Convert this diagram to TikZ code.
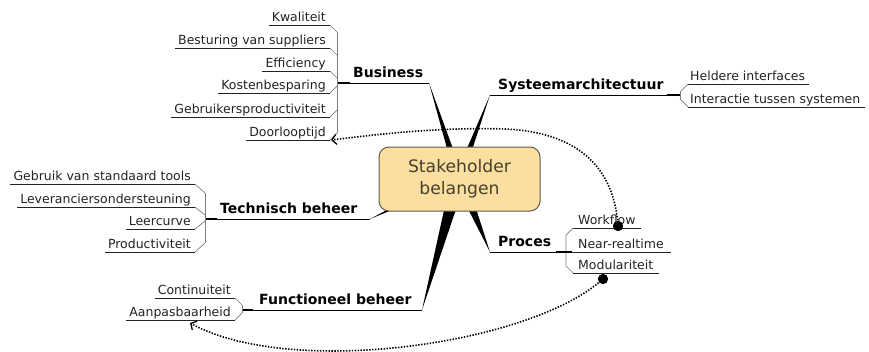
\documentclass[tikz,border=0pt]{standalone}
\usepackage{fontspec}
\setmainfont{DejaVu Sans}
\usetikzlibrary{calc,arrows.meta}
\definecolor{boxfill}{RGB}{250,223,160}
\definecolor{boxline}{RGB}{95,90,70}
\definecolor{ctext}{RGB}{70,66,45}
\definecolor{ktext}{RGB}{35,35,35}
\definecolor{chamcol}{RGB}{125,125,125}
% left-side child: name, text right x, underline y, text, chamfer vector
\newcommand\mmLeft[5]{%
  \node[kid,anchor=base east] (#1) at (#2,#3-3.5) {#4};
  \draw[uline] ($(#1.base west)+(-3,3.5)$) -- ($(#1.base east)+(4,3.5)$);
  \draw[chamf] ($(#1.base east)+(4,3.5)$) -- ++(#5);
}
% right-side child: name, text left x, underline y, text, chamfer vector
\newcommand\mmRight[5]{%
  \node[kid,anchor=base west] (#1) at (#2,#3-4) {#4};
  \draw[uline] ($(#1.base west)+(-2,4)$) -- ($(#1.base east)+(4,4)$);
  \draw[chamf] ($(#1.base west)+(-2,4)$) -- ++(#5);
}
\newcommand\mmWedge[2]{%
  \fill[wedgefill] (#1) -- ($(C)!#2!90:(#1)$) -- ($(C)!#2!-90:(#1)$) -- cycle;
}
\begin{document}
\begin{tikzpicture}[x=1pt,y=-1pt,
  kid/.style={inner sep=0pt,font=\fontsize{12.5}{14}\selectfont,text=ktext},
  lab/.style={inner sep=0pt,font=\fontsize{14}{16}\selectfont\bfseries,text=black},
  uline/.style={draw=ktext,line width=0.9pt},
  chamf/.style={draw=chamcol,line width=0.7pt},
  mainline/.style={draw=black,line width=1pt},
  junct/.style={draw=black,line width=1.8pt},
  wedgefill/.style={fill=black},
  rel/.style={draw=black,line width=1.6pt,dash pattern=on 1.4pt off 1.5pt},
  dotn/.style={circle,fill=black,inner sep=0pt,minimum size=10pt},
  hubbox/.style={draw=boxline,line width=1pt,fill=boxfill,rounded corners=10pt,
    minimum width=161pt,minimum height=64pt,align=center,inner sep=0pt,
    font=\fontsize{17.2}{22}\selectfont,text=ctext}
]
\useasboundingbox (0,0) rectangle (869,351);
\coordinate (C) at (459,177);
\coordinate (tB) at (429,83);
\coordinate (tS) at (490,95);
\coordinate (tT) at (370,219);
\coordinate (tP) at (490,252);
\coordinate (tF) at (422,310);
% wedges
\mmWedge{tB}{4pt}
\mmWedge{tS}{4pt}
\mmWedge{tT}{5pt}
\mmWedge{tP}{6.5pt}
\mmWedge{tF}{7.5pt}
% hub
\node[hubbox] (hub) at (459.5,179) {Stakeholder\\belangen};

% Business
\node[lab,anchor=base west] (business) at (353,77) {Business};
\draw[mainline] (350,83) -- (tB);
\draw[junct] (337,83) -- (350,83);
\mmLeft{b1}{326}{25}{Kwaliteit}{7,7}
\mmLeft{b2}{326}{48}{Besturing van suppliers}{7,7}
\mmLeft{b3}{326}{71}{Efficiency}{7,7}
\mmLeft{b4}{326}{93}{Kostenbesparing}{7,-7}
\mmLeft{b5}{326}{117}{Gebruikersproductiviteit}{7,-7}
\mmLeft{b6}{326}{140}{Doorlooptijd}{7,-7}
\draw[chamf] (337,32) -- (337,133);

% Systeemarchitectuur
\node[lab,anchor=base west] (systeem) at (498,89) {Systeemarchitectuur};
\draw[mainline] (tS) -- (667,95);
\draw[junct] (667,95) -- (680,95);
\mmRight{s1}{690}{84}{Heldere interfaces}{-8,8}
\mmRight{s2}{690}{107}{Interactie tussen systemen}{-8,-8}
\draw[chamf] (680,92) -- (680,99);

% Technisch beheer
\node[lab,anchor=base west] (technisch) at (220,213) {Technisch beheer};
\draw[mainline] (217,219) -- (tT);
\draw[junct] (205,219) -- (217,219);
\mmLeft{t1}{191}{184}{Gebruik van standaard tools}{10,9}
\mmLeft{t2}{191}{207}{Leveranciersondersteuning}{10,8}
\mmLeft{t3}{191}{229}{Leercurve}{10,-8}
\mmLeft{t4}{191}{252}{Productiviteit}{10,-9}
\draw[chamf] (205,193) -- (205,243);

% Functioneel beheer
\node[lab,anchor=base west] (functioneel) at (259,304) {Functioneel beheer};
\draw[mainline] (253,310) -- (tF);
\draw[junct] (242,310) -- (253,310);
\mmLeft{f1}{231}{298}{Continuiteit}{7,7}
\mmLeft{f2}{231}{320}{Aanpasbaarheid}{7,-7}
\draw[chamf] (242,305) -- (242,313);

% Proces
\node[lab,anchor=base west] (proces) at (498,246) {Proces};
\draw[mainline] (tP) -- (566,252);
\node[kid,anchor=base west] (p1) at (578,224) {Workflow};
\node[kid,anchor=base west] (p2) at (578,248) {Near-realtime};
\node[kid,anchor=base west] (p3) at (578,269) {Modulariteit};
\draw[uline] ($(p1.base west)+(-5,4)$) -- ($(p1.base east)+(5,4)$);
\draw[uline] (566,252) -- ($(p2.base east)+(7,4)$);
\draw[uline] ($(p3.base west)+(-5,4)$) -- ($(p3.base east)+(6,4)$);
\draw[chamf] ($(p1.base west)+(-5,4)$) -- ++(-7,7) -- (566,266) -- ($(p3.base west)+(-5,4)$);
\draw[junct] (556,252) -- (572,252);

% relationships
\node[dotn] (wfdot) at (618,226) {};
\node[dotn] (mddot) at (603,279) {};
\coordinate (dtend) at (331,140);
\coordinate (aaend) at (190,323);
\draw[rel,-{Straight Barb[length=4.5pt,width=10pt,line width=1.3pt]}] (wfdot.center)
  .. controls (614,165) and (575,132) .. (505,129)
  .. controls (440,127) and (380,134) .. (dtend);
\draw[rel,-{Straight Barb[length=4.5pt,width=10pt,line width=1.3pt]}] (mddot.center)
  .. controls (530,345) and (290,378) .. (aaend);
\node[dotn] at (wfdot) {};
\node[dotn] at (mddot) {};
\end{tikzpicture}
\end{document}
